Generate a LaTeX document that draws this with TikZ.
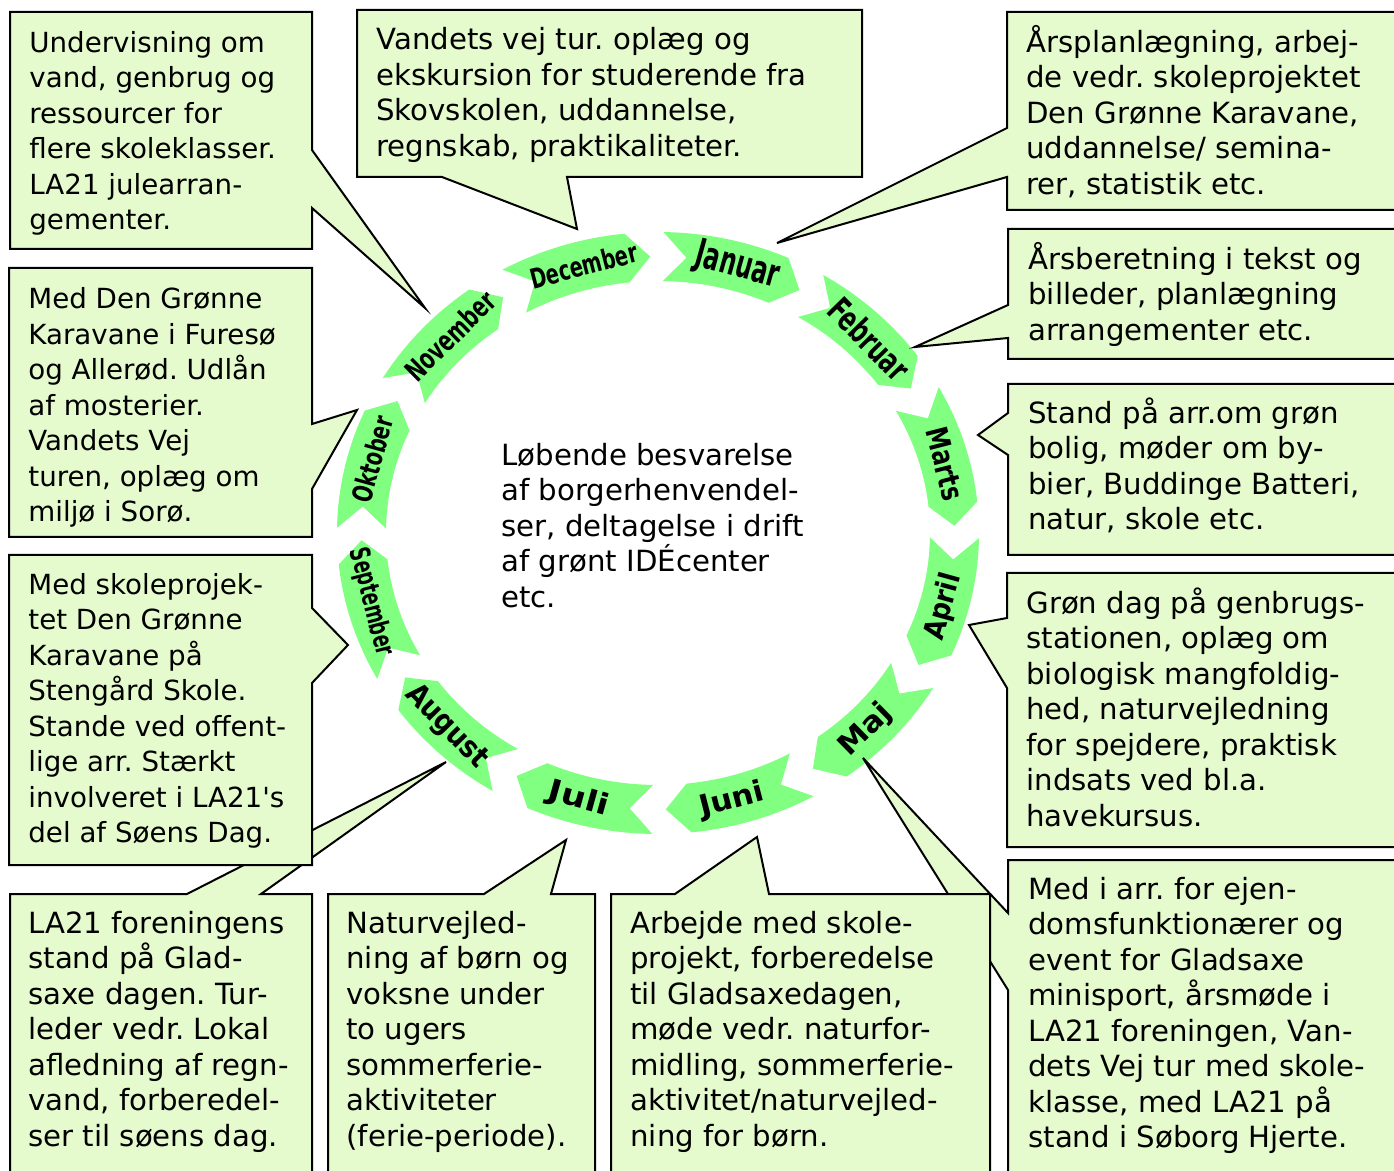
\documentclass[tikz,border=0pt]{standalone}
\usepackage{fontspec}
\setmainfont{DejaVu Sans}[Ligatures=TeXOff]
\usepackage{graphicx}
\definecolor{mgreen}{RGB}{128,255,128}
\definecolor{cfill}{RGB}{229,250,205}
\newcommand\fsA{\fontsize{13.85}{17.75}\selectfont}
\newcommand\fsB{\fontsize{14.6}{17.75}\selectfont}
\newcommand\tstrut{\rule{0pt}{14pt}}
\frenchspacing
\begin{document}
\begin{tikzpicture}[x=0.5pt,y=-0.5pt,
  callout/.style={fill=cfill, draw=black, line width=1pt},
  ctext/.style={anchor=north west, inner sep=0pt, align=left},
  monthshape/.style={fill=mgreen},
  mlabel/.style={inner sep=0pt, font=\bfseries}]
\useasboundingbox (0,0) rectangle (1394,1171);
\fill[white] (0,0) rectangle (1394,1171);

% month arrows (curved chevrons on an ellipse)
\foreach \t/\nm/\lab/\w/\h/\r in {
  89/jan/Januar/42.5/14/-15.5,
  59/feb/Februar/50/13/-45.5,
  29/mar/Marts/37/11/-75.5,
  -1/apr/April/34/11/74.5,
  -31/maj/Maj/31/11/44.5,
  -61/jun/Juni/33/11/14.5,
  -91/jul/Juli/31/11/-15.5,
  -121/aug/August/52/11/-45.5,
  -151/sep/September/55/10.5/-75.5,
  -181/okt/Oktober/44/10.5/74.5,
  -211/nov/November/57/11/44.5,
  -241/dec/December/55/10.5/14.5}
{
  \pgfmathsetmacro\ha{\t-23}
  \pgfmathsetmacro\tp{\t-27.5}
  \pgfmathsetmacro\nt{\t-4.5}
  \pgfmathsetmacro\tc{\t-14.5}
  \fill[monthshape] plot[domain=\t:\ha, samples=24] ({658+321*cos(\x)},{533-301*sin(\x)})
     -- ({658+296.5*cos(\tp)},{533-276.5*sin(\tp)})
     -- plot[domain=\ha:\t, samples=24] ({658+272*cos(\x)},{533-252*sin(\x)})
     -- ({658+296.5*cos(\nt)},{533-276.5*sin(\nt)}) -- cycle;
  \node[mlabel, rotate=\r] (m-\nm) at ({658+296.5*cos(\tc)},{533-276.5*sin(\tc)}) {\resizebox{\w pt}{\h pt}{\lab}};
}

% callouts
\draw[callout] (10,12) -- (312,12) -- (312,150) -- (425,308) -- (312,208) -- (312,249) -- (10,249) -- cycle;
\draw[callout] (357,10) -- (862,10) -- (862,177) -- (567,177) -- (577,229) -- (442,177) -- (357,177) -- cycle;
\draw[callout] (1007,12) -- (1400,12) -- (1400,210) -- (1007,210) -- (1007,177) -- (777,243) -- (1007,128) -- cycle;
\draw[callout] (1008,229) -- (1400,229) -- (1400,359) -- (1008,359) -- (1008,338) -- (915,347) -- (1008,305) -- cycle;
\draw[callout] (1008,384) -- (1400,384) -- (1400,555) -- (1008,555) -- (1008,455) -- (978,435) -- (1008,413) -- cycle;
\draw[callout] (1007,573) -- (1400,573) -- (1400,847) -- (1007,847) -- (1007,688) -- (969,625) -- (1007,618) -- cycle;
\draw[callout] (1008,860) -- (1400,860) -- (1400,1180) -- (1008,1180) -- (1008,990) -- (863,758) -- (1008,913) -- cycle;
\draw[callout] (10,894) -- (187,894) -- (446,762) -- (261,894) -- (312,894) -- (312,1180) -- (10,1180) -- cycle;
\draw[callout] (611,894) -- (675,894) -- (757,837) -- (769,894) -- (990,894) -- (990,1180) -- (611,1180) -- cycle;
\draw[callout] (328,894) -- (484,894) -- (566,840) -- (551,894) -- (595,894) -- (595,1180) -- (328,1180) -- cycle;
\draw[callout] (9,555) -- (312,555) -- (312,608) -- (348,645) -- (312,683) -- (312,865) -- (9,865) -- cycle;
\draw[callout] (9,268) -- (312,268) -- (312,424) -- (357,410) -- (312,489) -- (312,537) -- (9,537) -- cycle;

% texts
\node[ctext, font=\fsA] (t-nov) at (29,23.7) {\tstrut Undervisning om\\vand, genbrug og\\ressourcer for\\flere skoleklasser.\\LA21 julearran-\\gementer.};
\node[ctext, font=\fsB] (t-dec) at (376,21.5) {\tstrut Vandets vej tur. oplæg og\\ekskursion for studerende fra\\Skovskolen, uddannelse,\\regnskab, praktikaliteter.};
\node[ctext, font=\fsB] (t-jan) at (1026,24) {\tstrut Årsplanlægning, arbej-\\de vedr. skoleprojektet\\Den Grønne Karavane,\\uddannelse/ semina-\\rer, statistik etc.};
\node[ctext, font=\fsB] (t-feb) at (1028,241) {\tstrut Årsberetning i tekst og\\billeder, planlægning\\arrangementer etc.};
\node[ctext, font=\fsB] (t-mar) at (1028,395) {\tstrut Stand på arr.om grøn\\bolig, møder om by-\\bier, Buddinge Batteri,\\natur, skole etc.};
\node[ctext, font=\fsB] (t-apr) at (1026,585) {\tstrut Grøn dag på genbrugs-\\stationen, oplæg om\\biologisk mangfoldig-\\hed, naturvejledning\\for spejdere, praktisk\\indsats ved bl.a.\\havekursus.};
\node[ctext, font=\fsB] (t-maj) at (1028,871) {\tstrut Med i arr. for ejen-\\domsfunktionærer og\\event for Gladsaxe\\minisport, årsmøde i\\LA21 foreningen, Van-\\dets Vej tur med skole-\\klasse, med LA21 på\\stand i Søborg Hjerte.};
\node[ctext, font=\fsB] (t-jun) at (630,905) {\tstrut Arbejde med skole-\\projekt, forberedelse\\til Gladsaxedagen,\\møde vedr. naturfor-\\midling, sommerferie-\\aktivitet/naturvejled-\\ning for børn.};
\node[ctext, font=\fsB] (t-jul) at (346,905) {\tstrut Naturvejled-\\ning af børn og\\voksne under\\to ugers\\sommerferie-\\aktiviteter\\(ferie-periode).};
\node[ctext, font=\fsB] (t-aug) at (28,905) {\tstrut LA21 foreningens\\stand på Glad-\\saxe dagen. Tur-\\leder vedr. Lokal\\afledning af regn-\\vand, forberedel-\\ser til søens dag.};
\node[ctext, font=\fsA] (t-sep) at (28,566) {\tstrut Med skoleprojek-\\tet Den Grønne\\Karavane på\\Stengård Skole.\\Stande ved offent-\\lige arr. Stærkt\\involveret i LA21's\\del af Søens Dag.};
\node[ctext, font=\fsA] (t-okt) at (28,280.5) {\tstrut Med Den Grønne\\Karavane i Furesø\\og Allerød. Udlån\\af mosterier.\\Vandets Vej\\turen, oplæg om\\miljø i Sorø.};
\node[ctext, font=\fsB] (t-center) at (501,437) {\tstrut Løbende besvarelse\\af borgerhenvendel-\\ser, deltagelse i drift\\af grønt IDÉcenter\\etc.};
\end{tikzpicture}
\end{document}
